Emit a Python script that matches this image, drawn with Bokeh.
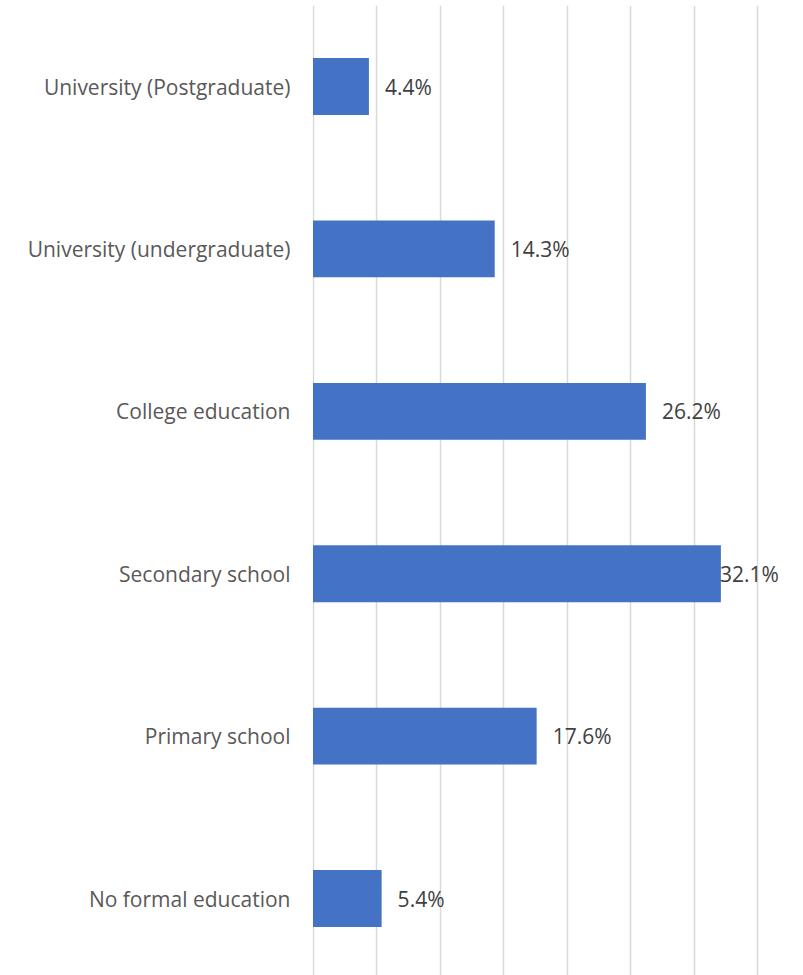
from bokeh.plotting import figure
from bokeh.models import ColumnDataSource, FixedTicker, SingleIntervalTicker, Range1d
from bokeh.core.properties import value
from bokeh.embed import file_html
from bokeh.resources import INLINE

# Data (bottom to top)
categories = ["No formal education", "Primary school", "Secondary school",
              "College education", "University (undergraduate)", "University (Postgraduate)"]
percent = [5.4, 17.6, 32.1, 26.2, 14.3, 4.4]
tick_positions = list(range(len(categories)))

labels = [f"{v:.1f}%" for v in percent]
offsets = [16 if v < 31 else -1 for v in percent]

src = ColumnDataSource(dict(y=tick_positions, v=percent, lab=labels, off=offsets))

p = figure(width=795, height=975, output_backend="svg", toolbar_location=None,
           x_range=Range1d(-0.04, 37.5), y_range=Range1d(-0.474, 5.499),
           min_border_left=312, min_border_right=6, min_border_top=5, min_border_bottom=0)
p.outline_line_color = None
p.background_fill_color = "white"

p.hbar(y="y", right="v", left=0, height=0.35, source=src,
       fill_color="#4472C4", line_color=None)

p.text(x="v", y="y", text="lab", source=src, x_offset="off",
       text_font=value("Open Sans"), text_font_size="21px",
       text_color="#404040", text_baseline="middle", text_align="left")

p.xaxis.visible = False
p.xgrid.ticker = SingleIntervalTicker(interval=5)
p.xgrid.grid_line_color = "#D9D9D9"
p.xgrid.grid_line_width = 1.5
p.ygrid.grid_line_color = None

ya = p.yaxis[0]
ya.ticker = FixedTicker(ticks=tick_positions)
ya.major_label_overrides = {i: c for i, c in zip(tick_positions, categories)}
ya.axis_line_color = None
ya.major_tick_line_color = None
ya.minor_tick_line_color = None
ya.major_tick_in = 0
ya.major_tick_out = 0
ya.major_label_standoff = 22
ya.major_label_text_font = "Open Sans"
ya.major_label_text_font_size = "21px"
ya.major_label_text_color = "#595959"

open("out.html", "w").write(file_html(p, INLINE))
